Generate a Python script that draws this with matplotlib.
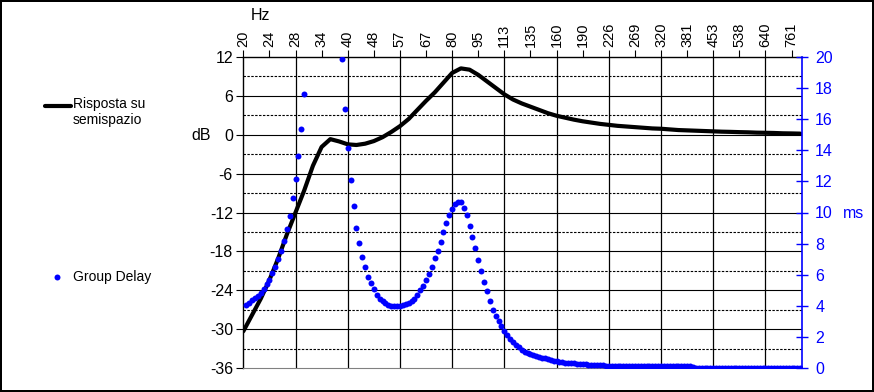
import numpy as np
import matplotlib.pyplot as plt
from matplotlib.lines import Line2D

plt.rcParams['font.family'] = ['Liberation Sans', 'DejaVu Sans']

# asse frequenze: 1/36 di ottava per punto, etichetta ogni 9 punti (1/4 ottava)
freq_labels = ["20", "24", "28", "34", "40", "48", "57", "67", "80", "95", "113", "135",
               "160", "190", "226", "269", "320", "381", "453", "538", "640", "761"]

# risposta su semispazio [dB], un valore ogni 3 punti (1/12 ottava)
resp_db = [-30.3, -27.8, -25.3, -22.4, -19.1, -15.4, -12.0, -8.6, -4.8, -1.9,
           -0.7, -1.05, -1.5, -1.6, -1.4, -1.0, -0.4, 0.4, 1.3, 2.4,
           3.8, 5.2, 6.5, 8.0, 9.5, 10.2, 10.0, 9.2, 8.2, 7.2,
           6.2, 5.4, 4.8, 4.3, 3.8, 3.3, 2.9, 2.6, 2.3, 2.05,
           1.85, 1.65, 1.5, 1.35, 1.25, 1.15, 1.05, 0.95, 0.9, 0.8,
           0.7, 0.65, 0.6, 0.55, 0.5, 0.45, 0.42, 0.38, 0.35, 0.3,
           0.28, 0.25, 0.2, 0.18, 0.15]

# group delay [ms], dal punto 1 in poi (nan = fuori scala, sopra 20 ms)
nan = float('nan')
gd_ms = [4.04, 4.21, 4.36, 4.51, 4.66, 4.83, 5.07, 5.39, 5.69, 6.10,
         6.48, 7.0, 7.55, 8.19, 8.96, 9.79, 10.91, 12.13, 13.61, 15.38,
         17.59, nan, nan, nan, nan, nan, nan, nan, nan, nan,
         nan, nan, nan, 19.83, 16.66, 14.12, 12.07, 10.40, 9.02, 8.02,
         7.16, 6.48, 5.88, 5.46, 5.07, 4.72, 4.47, 4.30, 4.18, 4.08,
         4.02, 3.98, 3.97, 4.00, 4.05, 4.12, 4.21, 4.33, 4.48, 4.73,
         5.02, 5.31, 5.65, 6.03, 6.48, 7.05, 7.56, 8.12, 8.73, 9.31,
         9.83, 10.25, 10.55, 10.70, 10.65, 10.30, 9.85, 9.15, 8.44, 7.70,
         6.96, 6.25, 5.55, 4.94, 4.30, 3.74, 3.35, 3.02, 2.70, 2.40,
         2.12, 1.89, 1.69, 1.51, 1.34, 1.20, 1.07, 0.97, 0.90, 0.83,
         0.78, 0.73, 0.68, 0.63, 0.59, 0.54, 0.49, 0.46, 0.43, 0.40,
         0.37, 0.35, 0.33, 0.32, 0.30, 0.28, 0.26, 0.25, 0.23, 0.22,
         0.21, 0.20, 0.19, 0.18, 0.17, 0.17, 0.17, 0.16, 0.16, 0.16,
         0.16, 0.15, 0.15, 0.15, 0.15, 0.15, 0.15, 0.15, 0.15, 0.14,
         0.14, 0.14, 0.14, 0.14, 0.14, 0.14, 0.14, 0.14, 0.13, 0.13,
         0.13, 0.13, 0.13, 0.13, 0.06, 0.05, 0.05, 0.05, 0.05, 0.05,
         0.05, 0.05, 0.05, 0.05, 0.05, 0.05, 0.05, 0.05, 0.05, 0.05,
         0.05, 0.05, 0.05, 0.05, 0.05, 0.05, 0.05, 0.05, 0.05, 0.05,
         0.05, 0.05, 0.05, 0.05, 0.05, 0.05, 0.05, 0.05, 0.05, 0.05,
         0.05, 0.05]

W, H = 874, 392
fig = plt.figure(figsize=(W / 100, H / 100), dpi=100)
fig.patch.set_edgecolor('black')
fig.patch.set_linewidth(1.5)

ax = fig.add_axes([243.3 / W, (H - 368.3) / H, 558.7 / W, 311.6 / H])
x_last = 192.6

# griglia
for v in range(-30, 12, 6):
    ax.axhline(v, color='black', lw=0.8, zorder=1)
for v in range(-33, 12, 6):
    ax.axhline(v, color='black', lw=0.8, ls=(0, (2.2, 1.3)), zorder=1)
for i in range(18, 181, 18):
    ax.axvline(i, color='black', lw=0.9, zorder=1)

x_resp = np.arange(len(resp_db)) * 3
ax.plot(x_resp, resp_db, color='black', lw=3, solid_capstyle='round',
        solid_joinstyle='round', zorder=3)

ax.set_xlim(0, x_last)
ax.set_ylim(-36, 12)
ax.set_yticks(range(-36, 13, 6))
ax.set_yticklabels([str(v) for v in range(-36, 13, 6)])
ax.xaxis.tick_top()
ax.set_xticks(np.arange(len(freq_labels)) * 9)
ax.set_xticklabels(freq_labels, rotation=90)
ax.tick_params(axis='x', direction='out', length=5, width=0.8, pad=2, labelsize=10.5)
ax.tick_params(axis='y', direction='out', length=5, width=0.8, pad=2.5, labelsize=11.5)
ax.spines['bottom'].set_color('#808080')
ax.spines['right'].set_visible(False)
for s in ['left', 'top']:
    ax.spines[s].set_linewidth(1)

ax2 = ax.twinx()
x_gd = np.arange(1, len(gd_ms) + 1)
ax2.plot(x_gd, gd_ms, 'o', color='#0000ff', ms=4.3, mew=0, zorder=4)
ax2.set_ylim(0, 20)
ax2.set_yticks(range(0, 21, 2))
ax2.tick_params(axis='y', colors='#0000ff', direction='inout', length=9, width=1,
                pad=5, labelsize=11.5)
for s in ['left', 'top', 'bottom']:
    ax2.spines[s].set_visible(False)
ax2.spines['right'].set_color('#0000ff')
ax2.spines['right'].set_linewidth(1.2)
ax2.set_xlim(0, x_last)

fig.text(211 / W, 1 - 136 / H, 'dB', ha='right', va='center', fontsize=11.5)
fig.text(251 / W, 1 - 15 / H, 'Hz', ha='left', va='center', fontsize=11.5)
fig.text(843 / W, 1 - 213 / H, 'ms', ha='left', va='center', fontsize=11.5,
         color='#0000ff')

# legenda (a sinistra, come nel foglio originale)
fig.add_artist(Line2D([45 / W, 71 / W], [1 - 106 / H, 1 - 106 / H], color='black',
                      lw=3, solid_capstyle='round'))
fig.text(73 / W, 1 - 97 / H, 'Risposta su\nsemispazio', ha='left', va='top',
         fontsize=10, linespacing=1.15)
fig.add_artist(Line2D([57 / W], [1 - 277 / H], marker='o', color='#0000ff',
                      ms=4.3, mew=0))
fig.text(73 / W, 1 - 277 / H, 'Group Delay', ha='left', va='center', fontsize=10)

fig.savefig('out.png', dpi=100)
